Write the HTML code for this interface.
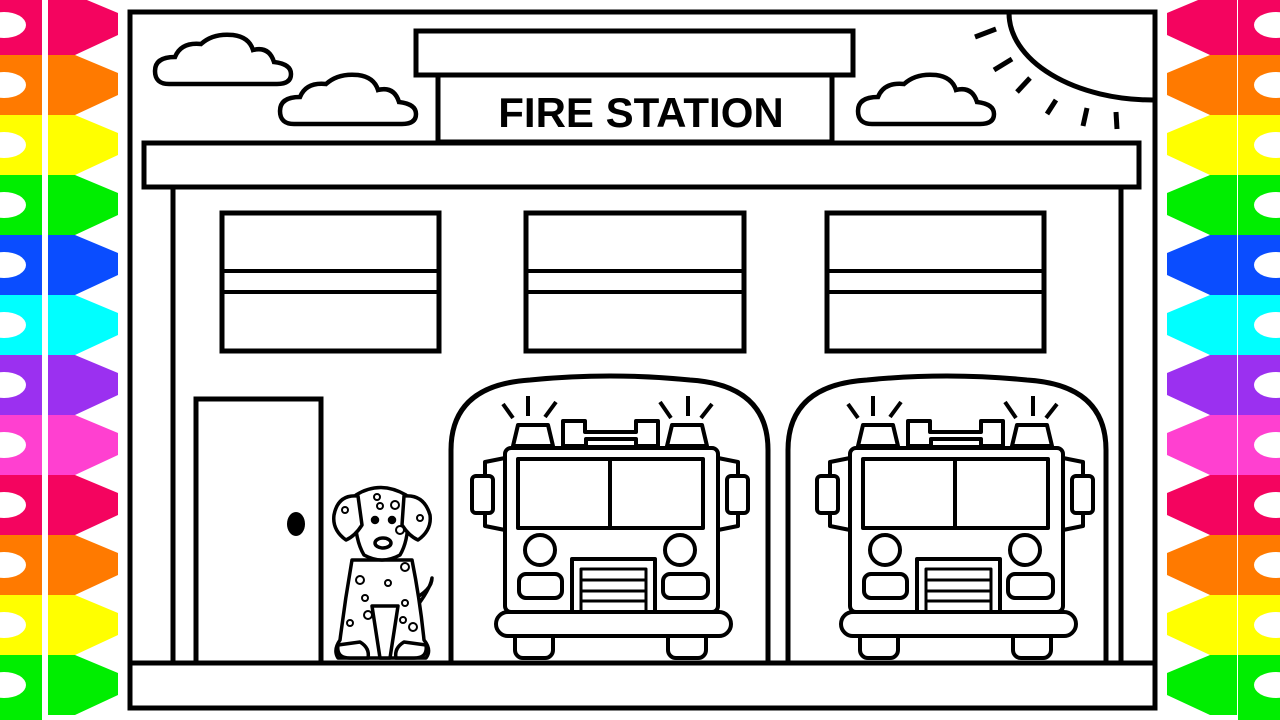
<!DOCTYPE html>
<html><head><meta charset="utf-8"><style>
html,body{margin:0;padding:0;background:#fff;width:1280px;height:720px;overflow:hidden}
svg{display:block}
</style></head><body>
<svg width="1280" height="720" viewBox="0 0 1280 720" xmlns="http://www.w3.org/2000/svg">
<defs>
<g id="truck" fill="#fff" stroke="#000" stroke-width="4" stroke-linejoin="round">
  <line x1="503" y1="404" x2="513" y2="418"/><line x1="528" y1="396" x2="528" y2="416"/><line x1="556" y1="402" x2="545" y2="417"/>
  <line x1="660" y1="402" x2="671" y2="418"/><line x1="688" y1="396" x2="688" y2="416"/><line x1="712" y1="404" x2="701" y2="418"/>
  <polygon points="518,425 548,425 553,446 513,446"/>
  <polygon points="672,425 702,425 707,446 667,446"/>
  <path d="M563,446 V421 H585 V432 H636 V421 H658 V446 Z"/>
  <rect x="586" y="439" width="50" height="8"/>
  <polygon points="505,458 485,462 485,526 505,530"/>
  <rect x="472" y="476" width="21" height="37" rx="4"/>
  <polygon points="718,458 738,462 738,526 718,530"/>
  <rect x="727" y="476" width="21" height="37" rx="4"/>
  <rect x="505" y="448" width="213" height="164" rx="6"/>
  <rect x="518" y="459" width="185" height="69"/>
  <line x1="610" y1="459" x2="610" y2="528"/>
  <circle cx="540" cy="550" r="15"/><circle cx="680" cy="550" r="15"/>
  <rect x="519" y="574" width="43" height="24" rx="7"/>
  <rect x="663" y="574" width="45" height="24" rx="7"/>
  <rect x="572" y="559" width="83" height="53"/>
  <rect x="581" y="569" width="65" height="43" stroke-width="3"/>
  <line x1="581" y1="580" x2="646" y2="580" stroke-width="3"/>
  <line x1="581" y1="591" x2="646" y2="591" stroke-width="3"/>
  <line x1="581" y1="601" x2="646" y2="601" stroke-width="3"/>
  <rect x="515" y="628" width="38" height="30" rx="8"/>
  <rect x="668" y="628" width="38" height="30" rx="8"/>
  <rect x="496" y="612" width="235" height="24" rx="12"/>
</g>
<path id="cloud" d="M16,52 Q2,52 2,39 Q2,25 22,25 Q28,10 48,12 Q60,1 80,3 Q96,5 100,18 Q116,14 121,30 Q138,32 138,42 Q138,52 124,52 Z" fill="#fff" stroke="#000" stroke-width="4.5"/>
</defs>

<g>
  <g id="leftcol">
    <rect x="0" y="-5" width="42" height="60" fill="#f4045f"/>
    <rect x="0" y="55" width="42" height="60" fill="#ff7a00"/>
    <rect x="0" y="115" width="42" height="60" fill="#ffff00"/>
    <rect x="0" y="175" width="42" height="60" fill="#00ee00"/>
    <rect x="0" y="235" width="42" height="60" fill="#0a4dff"/>
    <rect x="0" y="295" width="42" height="60" fill="#00ffff"/>
    <rect x="0" y="355" width="42" height="60" fill="#9b30f0"/>
    <rect x="0" y="415" width="42" height="60" fill="#ff40d0"/>
    <rect x="0" y="475" width="42" height="60" fill="#f4045f"/>
    <rect x="0" y="535" width="42" height="60" fill="#ff7a00"/>
    <rect x="0" y="595" width="42" height="60" fill="#ffff00"/>
    <rect x="0" y="655" width="42" height="70" fill="#00ee00"/>
  </g>
  <g id="ovals" fill="#fff">
    <ellipse cx="4" cy="25" rx="22" ry="13"/><ellipse cx="4" cy="85" rx="22" ry="13"/><ellipse cx="4" cy="145" rx="22" ry="13"/>
    <ellipse cx="4" cy="205" rx="22" ry="13"/><ellipse cx="4" cy="265" rx="22" ry="13"/><ellipse cx="4" cy="325" rx="22" ry="13"/>
    <ellipse cx="4" cy="385" rx="22" ry="13"/><ellipse cx="4" cy="445" rx="22" ry="13"/><ellipse cx="4" cy="505" rx="22" ry="13"/>
    <ellipse cx="4" cy="565" rx="22" ry="13"/><ellipse cx="4" cy="625" rx="22" ry="13"/><ellipse cx="4" cy="685" rx="22" ry="13"/>
  </g>
  <g>
    <polygon fill="#f4045f" points="48,-5 75,-5 118,13 118,35 75,55 48,55"/>
    <polygon fill="#ff7a00" points="48,55 75,55 118,73 118,95 75,115 48,115"/>
    <polygon fill="#ffff00" points="48,115 75,115 118,133 118,155 75,175 48,175"/>
    <polygon fill="#00ee00" points="48,175 75,175 118,193 118,215 75,235 48,235"/>
    <polygon fill="#0a4dff" points="48,235 75,235 118,253 118,275 75,295 48,295"/>
    <polygon fill="#00ffff" points="48,295 75,295 118,313 118,335 75,355 48,355"/>
    <polygon fill="#9b30f0" points="48,355 75,355 118,373 118,395 75,415 48,415"/>
    <polygon fill="#ff40d0" points="48,415 75,415 118,433 118,455 75,475 48,475"/>
    <polygon fill="#f4045f" points="48,475 75,475 118,493 118,515 75,535 48,535"/>
    <polygon fill="#ff7a00" points="48,535 75,535 118,553 118,575 75,595 48,595"/>
    <polygon fill="#ffff00" points="48,595 75,595 118,613 118,635 75,655 48,655"/>
    <polygon fill="#00ee00" points="48,655 75,655 118,673 118,695 75,715 48,715"/>
  </g>
</g>

<g transform="translate(1280,0) scale(-1,1)">
  <use href="#leftcol"/>
  <use href="#ovals"/>
  <g>
    <polygon fill="#f4045f" points="43,-5 70,-5 113,13 113,35 70,55 43,55"/>
    <polygon fill="#ff7a00" points="43,55 70,55 113,73 113,95 70,115 43,115"/>
    <polygon fill="#ffff00" points="43,115 70,115 113,133 113,155 70,175 43,175"/>
    <polygon fill="#00ee00" points="43,175 70,175 113,193 113,215 70,235 43,235"/>
    <polygon fill="#0a4dff" points="43,235 70,235 113,253 113,275 70,295 43,295"/>
    <polygon fill="#00ffff" points="43,295 70,295 113,313 113,335 70,355 43,355"/>
    <polygon fill="#9b30f0" points="43,355 70,355 113,373 113,395 70,415 43,415"/>
    <polygon fill="#ff40d0" points="43,415 70,415 113,433 113,455 70,475 43,475"/>
    <polygon fill="#f4045f" points="43,475 70,475 113,493 113,515 70,535 43,535"/>
    <polygon fill="#ff7a00" points="43,535 70,535 113,553 113,575 70,595 43,595"/>
    <polygon fill="#ffff00" points="43,595 70,595 113,613 113,635 70,655 43,655"/>
    <polygon fill="#00ee00" points="43,655 70,655 113,673 113,695 70,715 43,715"/>
  </g>
</g>

<rect x="130" y="12" width="1025" height="696" fill="#fff" stroke="#000" stroke-width="5"/>
<line x1="130" y1="663" x2="1155" y2="663" stroke="#000" stroke-width="5"/>

<g stroke="#000" stroke-width="5" fill="none">
  <path d="M1009,13 A144,87 0 0 0 1153,100"/>
  <line x1="975" y1="37" x2="996" y2="29"/>
  <line x1="994" y1="70" x2="1012" y2="59"/>
  <line x1="1017" y1="92" x2="1030" y2="78"/>
  <line x1="1047" y1="114" x2="1056" y2="100"/>
  <line x1="1083" y1="126" x2="1087" y2="108"/>
  <line x1="1117" y1="129" x2="1116" y2="112"/>
</g>

<use href="#cloud" transform="translate(153,32)"/>
<use href="#cloud" transform="translate(278,72)"/>
<use href="#cloud" transform="translate(856,72)"/>

<g fill="#fff" stroke="#000" stroke-width="5">
  <rect x="438" y="74" width="394" height="68"/>
  <rect x="416" y="31" width="437" height="44"/>
  <rect x="144" y="143" width="995" height="44"/>
</g>
<text x="641" y="127" text-anchor="middle" font-family="Liberation Sans, Arial, sans-serif" font-weight="bold" font-size="42" fill="#000">FIRE STATION</text>

<g stroke="#000" stroke-width="5">
  <line x1="173" y1="187" x2="173" y2="663"/>
  <line x1="1121" y1="187" x2="1121" y2="663"/>
</g>

<g fill="#fff" stroke="#000" stroke-width="5">
  <rect x="222" y="213" width="217" height="138"/>
  <rect x="526" y="213" width="218" height="138"/>
  <rect x="827" y="213" width="217" height="138"/>
</g>
<g stroke="#000" stroke-width="4">
  <line x1="222" y1="271" x2="439" y2="271"/><line x1="222" y1="292" x2="439" y2="292"/>
  <line x1="526" y1="271" x2="744" y2="271"/><line x1="526" y1="292" x2="744" y2="292"/>
  <line x1="827" y1="271" x2="1044" y2="271"/><line x1="827" y1="292" x2="1044" y2="292"/>
</g>

<rect x="196" y="399" width="125" height="264" fill="#fff" stroke="#000" stroke-width="5"/>
<ellipse cx="296" cy="524" rx="9" ry="12" fill="#000"/>

<g fill="none" stroke="#000" stroke-width="5">
  <path d="M451,663 V450 Q451,385 530,380 Q610,372 690,380 Q768,385 768,450 V663"/>
  <path d="M788,663 V450 Q788,385 867,380 Q947,372 1027,380 Q1106,385 1106,450 V663"/>
</g>

<use href="#truck"/>
<use href="#truck" transform="translate(345,0)"/>

<g fill="#fff" stroke="#000" stroke-width="3.5" stroke-linejoin="round" stroke-linecap="round">
  <path d="M412,600 Q432,590 432,578 Q430,590 414,610"/>
  <path d="M352,560 Q345,600 340,640 Q333,650 338,658 L426,658 Q432,650 424,640 Q420,600 412,560 Z"/>
  <path d="M372,606 L380,658 L390,658 L398,606 Z"/>
  <path d="M338,645 Q336,658 350,658 L368,658 Q370,648 360,642 Z"/>
  <path d="M426,645 Q428,658 414,658 L396,658 Q394,648 404,642 Z"/>
  <path d="M356,495 Q380,480 406,495 Q412,535 400,555 Q382,565 364,555 Q352,535 356,495 Z"/>
  <path d="M358,496 Q338,494 334,515 Q332,530 346,540 Q355,536 362,525 Z"/>
  <path d="M404,496 Q424,494 430,515 Q432,530 418,540 Q409,536 402,525 Z"/>
  <ellipse cx="383" cy="543" rx="8" ry="5"/>
  <circle cx="375" cy="520" r="2.5" fill="#000"/><circle cx="392" cy="520" r="2.5" fill="#000"/>
  <circle cx="377" cy="497" r="3" stroke-width="2"/><circle cx="395" cy="505" r="4" stroke-width="2"/>
  <circle cx="380" cy="506" r="3" stroke-width="2"/><circle cx="400" cy="530" r="4" stroke-width="2"/>
  <circle cx="360" cy="580" r="4" stroke-width="2"/><circle cx="388" cy="583" r="3" stroke-width="2"/>
  <circle cx="405" cy="567" r="4" stroke-width="2"/><circle cx="365" cy="598" r="3" stroke-width="2"/>
  <circle cx="368" cy="615" r="4" stroke-width="2"/><circle cx="405" cy="603" r="3" stroke-width="2"/>
  <circle cx="350" cy="623" r="3" stroke-width="2"/><circle cx="413" cy="627" r="4" stroke-width="2"/>
  <circle cx="403" cy="620" r="3" stroke-width="2"/><circle cx="345" cy="510" r="3" stroke-width="2"/>
  <circle cx="420" cy="518" r="3" stroke-width="2"/>
</g>
</svg>
</body></html>
